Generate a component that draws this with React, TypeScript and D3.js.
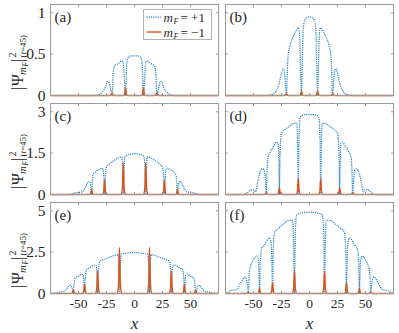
import React from "react";
import * as d3 from "d3";

type Pt = [number, number];

// tick values / labels
const xTicks = [-50, -25, 0, 25, 50];
const xTickLabels = ["-50", "-25", "0", "25", "50"];
const yTicksRow1 = [0, 0.5, 1];
const yTicksRow2 = [0, 1.5, 3];
const yTicksRow3 = [0, 2.5, 5];
const yTickLabelsRow1 = ["0", "0.5", "1"];
const yTickLabelsRow2 = ["0", "1.5", "3"];
const yTickLabelsRow3 = ["0", "2.5", "5"];
const yMaxRows = [1.1, 3.3, 5.5];
const panelLabels = ["(a)", "(b)", "(c)", "(d)", "(e)", "(f)"];

// m_F = +1 (dotted blue)
const blueA: Pt[] = [
  [-75, 0], [-36, 0], [-32, 0.01], [-29, 0.04], [-26, 0.1], [-24, 0.17], [-22.6, 0.15], [-21.3, 0.08], [-20, 0],
  [-18.9, 0.3], [-17.6, 0.36], [-14, 0.39], [-11.5, 0.42], [-10, 0.39], [-9, 0.2], [-8, 0],
  [-6.9, 0.38], [-5.6, 0.46], [-3, 0.48], [0, 0.48], [3, 0.48], [5.6, 0.46], [6.9, 0.38], [8, 0],
  [9, 0.2], [10, 0.39], [11.5, 0.42], [14, 0.39], [17.6, 0.36], [18.9, 0.3], [20, 0],
  [21.3, 0.08], [22.6, 0.15], [24, 0.17], [26, 0.1], [29, 0.04], [32, 0.01], [36, 0], [75, 0],
];
const blueB: Pt[] = [
  [-75, 0], [-38, 0], [-34, 0.01], [-30, 0.05], [-27, 0.15], [-25, 0.27], [-23.5, 0.325], [-22.3, 0.28], [-21.5, 0.15], [-20.6, 0],
  [-19.8, 0.3], [-19, 0.5], [-17.5, 0.6], [-15, 0.7], [-12, 0.78], [-9.8, 0.82], [-8.7, 0.7], [-8, 0.35], [-7.2, 0],
  [-6.4, 0.4], [-5.6, 0.8], [-4.5, 0.9], [-2.5, 0.94], [0, 0.95], [2.5, 0.94], [4.5, 0.9], [5.6, 0.8], [6.4, 0.4], [7.2, 0],
  [8, 0.35], [8.7, 0.7], [9.8, 0.82], [12, 0.78], [15, 0.7], [17.5, 0.6], [19, 0.5], [19.8, 0.3], [20.6, 0],
  [21.5, 0.15], [22.3, 0.28], [23.5, 0.325], [25, 0.27], [27, 0.15], [30, 0.05], [34, 0.01], [38, 0], [75, 0],
];
const blueC: Pt[] = [
  [-75, 0], [-58, 0], [-55, 0.03], [-52, 0.07], [-49, 0.08], [-46.5, 0.1], [-44.5, 0.22], [-42.5, 0.38], [-40.5, 0.48], [-39.5, 0.42], [-38.9, 0.2], [-38.3, 0],
  [-37.7, 0.4], [-37, 0.72], [-35, 0.82], [-32, 0.9], [-29, 0.95], [-28, 0.9], [-27.3, 0.5], [-26.7, 0],
  [-26.1, 0.6], [-25.2, 0.98], [-22, 1.12], [-18, 1.24], [-14, 1.34], [-11.3, 1.37], [-10.6, 0.8], [-10, 0],
  [-9.4, 0.9], [-8.3, 1.38], [-6, 1.44], [-3, 1.47], [0, 1.47], [3, 1.47], [6, 1.44], [8.3, 1.38], [9.4, 0.9], [10, 0],
  [10.6, 0.8], [11.3, 1.37], [14, 1.34], [18, 1.24], [22, 1.12], [25.2, 0.98], [26.1, 0.6], [26.7, 0],
  [27.3, 0.5], [28, 0.9], [29, 0.95], [32, 0.9], [35, 0.82], [37, 0.72], [37.7, 0.4], [38.3, 0],
  [38.9, 0.2], [39.5, 0.42], [40.5, 0.48], [42.5, 0.38], [44.5, 0.22], [46.5, 0.1], [49, 0.08], [52, 0.07], [55, 0.03], [58, 0], [75, 0],
];
const blueD: Pt[] = [
  [-75, 0], [-59, 0], [-56, 0.05], [-53, 0.15], [-51, 0.18], [-49, 0.12], [-48, 0.1], [-46.5, 0.4], [-44.5, 0.75], [-42, 0.93], [-40.5, 0.9], [-39.5, 0.6], [-38.5, 0],
  [-37.9, 0.9], [-37, 1.37], [-35, 1.55], [-32, 1.75], [-29.5, 1.9], [-28, 1.85], [-27.4, 1.2], [-26.9, 0],
  [-26.3, 1.5], [-25.2, 2.2], [-22, 2.35], [-18, 2.47], [-14, 2.58], [-11.5, 2.58], [-10.6, 1.8], [-10, 0],
  [-9.4, 2.0], [-8.3, 2.8], [-6, 2.88], [-3, 2.9], [0, 2.9], [3, 2.9], [6, 2.88], [8.3, 2.8], [9.4, 2.0], [10, 0],
  [10.6, 1.8], [11.5, 2.58], [14, 2.58], [18, 2.47], [22, 2.35], [25.2, 2.2], [26.3, 1.5], [26.9, 0],
  [27.4, 1.2], [28, 1.85], [29.5, 1.9], [32, 1.75], [35, 1.55], [37, 1.37], [37.9, 0.9], [38.5, 0],
  [39.5, 0.6], [40.5, 0.9], [42, 0.93], [44.5, 0.75], [46.5, 0.4], [48, 0.1], [49, 0.12], [51, 0.18], [53, 0.15], [56, 0.05], [59, 0], [75, 0],
];
const blueE: Pt[] = [
  [-75, 0], [-70, 0.02], [-67, 0.08], [-63, 0.12], [-60.5, 0.3], [-58.5, 0.45], [-57, 0.5], [-55.8, 0.35], [-54.6, 0],
  [-54, 0.6], [-52.8, 0.95], [-50, 1.05], [-47, 1.17], [-45.7, 1.1], [-45.1, 0.6], [-44.6, 0],
  [-44, 0.9], [-42.8, 1.45], [-40, 1.55], [-36, 1.72], [-34.2, 1.7], [-33.5, 1.1], [-32.9, 0],
  [-32.3, 1.3], [-31, 1.95], [-27, 2.07], [-22, 2.2], [-17, 2.32], [-14.6, 2.35], [-14, 1.6], [-13.4, 0],
  [-12.8, 1.6], [-11.5, 2.38], [-8, 2.43], [-4, 2.46], [0, 2.47], [4, 2.46], [8, 2.43], [11.5, 2.38], [12.8, 1.6], [13.4, 0],
  [14, 1.6], [14.6, 2.35], [17, 2.32], [22, 2.2], [27, 2.07], [31, 1.95], [32.3, 1.3], [32.9, 0],
  [33.5, 1.1], [34.2, 1.7], [36, 1.72], [40, 1.55], [42.8, 1.45], [44, 0.9], [44.6, 0],
  [45.1, 0.6], [45.7, 1.1], [47, 1.17], [50, 1.05], [52.8, 0.95], [54, 0.6], [54.6, 0],
  [55.8, 0.35], [57, 0.5], [58.5, 0.45], [60.5, 0.3], [63, 0.12], [67, 0.08], [70, 0.02], [75, 0],
];
const blueF: Pt[] = [
  [-75, 0], [-73, 0.05], [-70, 0.18], [-66, 0.22], [-64, 0.3], [-62, 0.55], [-59, 0.9], [-57.3, 1.0], [-56, 0.75], [-55.2, 0.4], [-54.6, 0],
  [-54, 1.0], [-53, 1.55], [-51, 1.9], [-48.5, 2.2], [-47, 2.26], [-45.6, 2.0], [-45.1, 1.2], [-44.6, 0],
  [-44, 1.8], [-43, 2.65], [-40, 2.95], [-37, 3.3], [-35.5, 3.35], [-34, 2.8], [-33.5, 1.6], [-33, 0],
  [-32.4, 2.5], [-31.2, 3.7], [-28, 3.92], [-24, 4.15], [-19, 4.4], [-15, 4.42], [-14.2, 3.2], [-13.4, 0],
  [-12.8, 3.4], [-11.5, 4.75], [-8, 4.85], [-4, 4.9], [0, 4.92], [4, 4.9], [8, 4.85], [11.5, 4.75], [12.8, 3.4], [13.4, 0],
  [14.2, 3.2], [15, 4.42], [19, 4.4], [24, 4.15], [28, 3.92], [31.2, 3.7], [32.4, 2.5], [33, 0],
  [33.5, 1.6], [34, 2.8], [35.5, 3.35], [37, 3.3], [40, 2.95], [43, 2.65], [44, 1.8], [44.6, 0],
  [45.1, 1.2], [45.6, 2.0], [47, 2.26], [48.5, 2.2], [51, 1.9], [53, 1.55], [54, 1.0], [54.6, 0],
  [55.2, 0.4], [56, 0.75], [57.3, 1.0], [59, 0.9], [62, 0.55], [64, 0.3], [66, 0.22], [70, 0.18], [73, 0.05], [75, 0],
];

// m_F = -1 (solid orange) spikes at the dips
const orangeA: Pt[] = [
  [-75, 0], [-21.5, 0], [-20, 0.03], [-18.5, 0], [-9.6, 0], [-8.7, 0.025], [-8, 0.09], [-7.3, 0.025], [-6.4, 0],
  [6.4, 0], [7.3, 0.025], [8, 0.09], [8.7, 0.025], [9.6, 0], [18.5, 0], [20, 0.03], [21.5, 0], [75, 0],
];
const orangeB: Pt[] = [
  [-75, 0], [-22, 0], [-20.6, 0.02], [-19.2, 0], [-8.8, 0], [-7.9, 0.015], [-7.2, 0.05], [-6.5, 0.015], [-5.6, 0],
  [5.6, 0], [6.5, 0.015], [7.2, 0.05], [7.9, 0.015], [8.8, 0], [19.2, 0], [20.6, 0.02], [22, 0], [75, 0],
];
const orangeC: Pt[] = [
  [-75, 0], [-40.1, 0], [-39, 0.05], [-38.3, 0.18], [-37.6, 0.05], [-36.5, 0],
  [-28.5, 0], [-27.4, 0.15], [-26.7, 0.53], [-26, 0.15], [-24.9, 0],
  [-11.8, 0], [-10.7, 0.3], [-10, 1.15], [-9.3, 0.3], [-8.2, 0],
  [8.2, 0], [9.3, 0.3], [10, 1.15], [10.7, 0.3], [11.8, 0],
  [24.9, 0], [26, 0.15], [26.7, 0.53], [27.4, 0.15], [28.5, 0],
  [36.5, 0], [37.6, 0.05], [38.3, 0.18], [39, 0.05], [40.1, 0], [75, 0],
];
const orangeD: Pt[] = [
  [-75, 0], [-40.3, 0], [-39.2, 0.02], [-38.5, 0.07], [-37.8, 0.02], [-36.7, 0],
  [-28.7, 0], [-27.6, 0.07], [-26.9, 0.25], [-26.2, 0.07], [-25.1, 0],
  [-11.8, 0], [-10.7, 0.16], [-10, 0.58], [-9.3, 0.16], [-8.2, 0],
  [8.2, 0], [9.3, 0.16], [10, 0.58], [10.7, 0.16], [11.8, 0],
  [25.1, 0], [26.2, 0.07], [26.9, 0.25], [27.6, 0.07], [28.7, 0],
  [36.7, 0], [37.8, 0.02], [38.5, 0.07], [39.2, 0.02], [40.3, 0], [75, 0],
];
const orangeE: Pt[] = [
  [-75, 0], [-56.4, 0], [-55.3, 0.06], [-54.6, 0.22], [-53.9, 0.06], [-52.8, 0],
  [-46.4, 0], [-45.3, 0.16], [-44.6, 0.56], [-43.9, 0.16], [-42.8, 0],
  [-34.7, 0], [-33.6, 0.38], [-32.9, 1.35], [-32.2, 0.38], [-31.1, 0],
  [-15.2, 0], [-14.1, 0.75], [-13.4, 2.78], [-12.7, 0.75], [-11.6, 0],
  [11.6, 0], [12.7, 0.75], [13.4, 2.78], [14.1, 0.75], [15.2, 0],
  [31.1, 0], [32.2, 0.38], [32.9, 1.35], [33.6, 0.38], [34.7, 0],
  [42.8, 0], [43.9, 0.16], [44.6, 0.56], [45.3, 0.16], [46.4, 0],
  [52.8, 0], [53.9, 0.06], [54.6, 0.22], [55.3, 0.06], [56.4, 0], [75, 0],
];
const orangeF: Pt[] = [
  [-75, 0], [-56.4, 0], [-55.3, 0.03], [-54.6, 0.1], [-53.9, 0.03], [-52.8, 0],
  [-46.4, 0], [-45.3, 0.08], [-44.6, 0.3], [-43.9, 0.08], [-42.8, 0],
  [-34.8, 0], [-33.7, 0.18], [-33, 0.66], [-32.3, 0.18], [-31.2, 0],
  [-15.2, 0], [-14.1, 0.38], [-13.4, 1.37], [-12.7, 0.38], [-11.6, 0],
  [11.6, 0], [12.7, 0.38], [13.4, 1.37], [14.1, 0.38], [15.2, 0],
  [31.2, 0], [32.3, 0.18], [33, 0.66], [33.7, 0.18], [34.8, 0],
  [42.8, 0], [43.9, 0.08], [44.6, 0.3], [45.3, 0.08], [46.4, 0],
  [52.8, 0], [53.9, 0.03], [54.6, 0.1], [55.3, 0.03], [56.4, 0], [75, 0],
];

const BLUE = "#2a86cc";
const ORANGE = "#D95319";
const AXIS = "#9a9a9a";
const TEXT = "#262626";
const SERIF = "Liberation Serif";

const colLeft = [50.5, 225.5];
const colW = 168;
const rowTop = [4.5, 103.5, 202.5];
const rowH = 91;

const blues = [blueA, blueB, blueC, blueD, blueE, blueF];
const oranges = [orangeA, orangeB, orangeC, orangeD, orangeE, orangeF];
const yTickSets = [yTicksRow1, yTicksRow2, yTicksRow3];
const yTickLabelSets = [yTickLabelsRow1, yTickLabelsRow2, yTickLabelsRow3];

function Panel({ idx }: { idx: number }) {
  const row = Math.floor(idx / 2);
  const col = idx % 2;
  const x0 = colLeft[col];
  const y0 = rowTop[row];
  const x = d3.scaleLinear().domain([-75, 75]).range([0, colW]);
  const y = d3.scaleLinear().domain([0, yMaxRows[row]]).range([rowH, 0]);
  const line = d3
    .line<Pt>()
    .x((d) => x(d[0]))
    .y((d) => y(d[1]))
    .curve(d3.curveMonotoneX);
  const tl = 2.5;
  return (
    <g transform={`translate(${x0},${y0})`}>
      <rect width={colW} height={rowH} fill="#fff" />
      <path d={line(blues[idx]) || ""} fill="none" stroke={BLUE} strokeWidth={1.25} strokeDasharray="1.2 1" />
      <path d={line(oranges[idx]) || ""} fill="none" stroke={ORANGE} strokeWidth={1.4} strokeLinejoin="round" />
      <rect width={colW} height={rowH} fill="none" stroke={AXIS} strokeWidth={1} />
      {xTicks.map((t) => (
        <g key={"xt" + t}>
          <line x1={x(t)} x2={x(t)} y1={rowH} y2={rowH - tl} stroke={AXIS} />
          <line x1={x(t)} x2={x(t)} y1={0} y2={tl} stroke={AXIS} />
        </g>
      ))}
      {yTickSets[row].map((t) => (
        <g key={"yt" + t}>
          <line x1={0} x2={tl} y1={y(t)} y2={y(t)} stroke={AXIS} />
          <line x1={colW} x2={colW - tl} y1={y(t)} y2={y(t)} stroke={AXIS} />
        </g>
      ))}
      {col === 0 &&
        yTickSets[row].map((t, i) => (
          <text key={"yl" + t} x={-5} y={y(t) + 5} textAnchor="end" fontSize={15.5} fontFamily={SERIF} fill={TEXT}>
            {yTickLabelSets[row][i]}
          </text>
        ))}
      {row === 2 &&
        xTicks.map((t, i) => (
          <text key={"xl" + t} x={x(t)} y={rowH + 14.5} textAnchor="middle" fontSize={13.5} fontFamily={SERIF} fill={TEXT}>
            {xTickLabels[i]}
          </text>
        ))}
      <text x={4} y={17} fontSize={15} fontFamily={SERIF} fill={TEXT}>
        {panelLabels[idx]}
      </text>
    </g>
  );
}

function YLabel({ cy }: { cy: number }) {
  return (
    <g transform={`translate(23,${cy}) rotate(-90)`} fill={TEXT}>
      <text x={-40} y={0} fontSize={16} fontFamily={SERIF}>|</text>
      <text x={-36} y={0} fontSize={16} fontFamily={SERIF}>Ψ</text>
      <text x={-25} y={3} fontSize={11} fontFamily={SERIF} fontStyle="italic">m</text>
      <text x={-16.5} y={5} fontSize={7.5} fontFamily={SERIF} fontStyle="italic">F</text>
      <text x={-12} y={0} fontSize={16} fontFamily={SERIF}>|</text>
      <text x={-7.5} y={-7} fontSize={10} fontFamily={SERIF}>2</text>
      <text x={-7.5} y={3} fontSize={9} fontFamily={SERIF}>
        (<tspan fontStyle="italic">t</tspan>=45)
      </text>
    </g>
  );
}

function Legend() {
  const lx = 143.5;
  const ly = 9.5;
  const entries = [
    { color: BLUE, dash: "1.2 1", sign: "+1" },
    { color: ORANGE, dash: undefined, sign: "−1" },
  ];
  return (
    <g transform={`translate(${lx},${ly})`} fill={TEXT}>
      <rect width={68} height={30} fill="#fff" stroke="#b0b0b0" strokeWidth={1} />
      {entries.map((e, i) => (
        <g key={i} transform={`translate(0,${7.5 + i * 15})`}>
          <line x1={3} x2={18} y1={0} y2={0} stroke={e.color} strokeWidth={e.dash ? 1.25 : 1.4} strokeDasharray={e.dash} />
          <text x={20} y={4.5} fontSize={13} fontFamily={SERIF} fontStyle="italic">m</text>
          <text x={30} y={7} fontSize={8} fontFamily={SERIF} fontStyle="italic">F</text>
          <text x={37} y={4.5} fontSize={13} fontFamily={SERIF}>= {e.sign}</text>
        </g>
      ))}
    </g>
  );
}

export default function App() {
  return (
    <svg width={399} height={333} style={{ position: "absolute", left: 0, top: 0, background: "#fff" }}>
      <rect width={399} height={333} fill="#fff" />
      {[0, 1, 2, 3, 4, 5].map((i) => (
        <Panel key={i} idx={i} />
      ))}
      <Legend />
      {rowTop.map((t) => (
        <YLabel key={t} cy={t + rowH / 2} />
      ))}
      {colLeft.map((c) => (
        <text key={c} x={c + colW / 2} y={329} textAnchor="middle" fontSize={17} fontStyle="italic" fontFamily={SERIF} fill={TEXT}>
          x
        </text>
      ))}
    </svg>
  );
}
